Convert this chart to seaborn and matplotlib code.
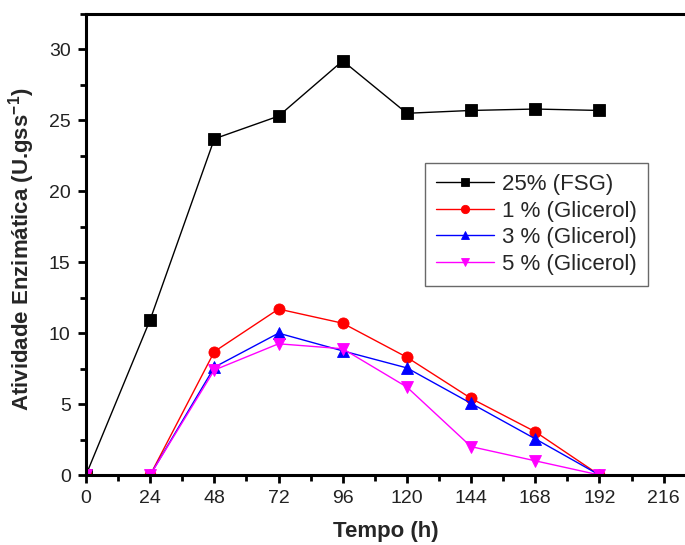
import matplotlib
matplotlib.use("Agg")
import matplotlib.pyplot as plt
from matplotlib.ticker import MultipleLocator
import seaborn as sns
import pandas as pd

tempo = [0, 24, 48, 72, 96, 120, 144, 168, 192]
fsg_25 = [0.0, 10.95, 23.7, 25.3, 29.2, 25.5, 25.7, 25.8, 25.7]
glic_1 = [0.0, 0.0, 8.7, 11.7, 10.7, 8.3, 5.4, 3.05, 0.0]
glic_3 = [0.0, 0.0, 7.6, 10.0, 8.75, 7.55, 5.05, 2.55, 0.0]
glic_5 = [0.0, 0.0, 7.4, 9.25, 8.9, 6.2, 2.0, 1.0, 0.0]
series_names = ["25% (FSG)", "1 % (Glicerol)", "3 % (Glicerol)", "5 % (Glicerol)"]
x_ticks = [0, 24, 48, 72, 96, 120, 144, 168, 192, 216]
y_ticks = [0, 5, 10, 15, 20, 25, 30]

rows = []
for name, vals in zip(series_names, [fsg_25, glic_1, glic_3, glic_5]):
    for t, v in zip(tempo, vals):
        rows.append({"Tempo": t, "Atividade": v, "Serie": name})
df = pd.DataFrame(rows)

sns.set_style("white")
plt.rcParams["font.family"] = ["Liberation Sans", "DejaVu Sans"]
plt.rcParams["mathtext.fontset"] = "custom"
plt.rcParams["mathtext.rm"] = "Liberation Sans"
plt.rcParams["mathtext.bf"] = "Liberation Sans:bold"

fig = plt.figure(figsize=(6.85, 5.45), dpi=100)
ax = fig.add_axes([86 / 685, 1 - 475 / 545, 1 - 86 / 685, (475 - 14) / 545])

palette = {series_names[0]: "#000000", series_names[1]: "#ff0000",
           series_names[2]: "#0000ff", series_names[3]: "#ff00ff"}
markers = {series_names[0]: "s", series_names[1]: "o",
           series_names[2]: "^", series_names[3]: "v"}

sns.lineplot(data=df, x="Tempo", y="Atividade", hue="Serie", style="Serie",
             palette=palette, markers=markers, dashes=False, linewidth=1.0,
             markersize=8, markeredgewidth=0.6, ax=ax, legend=True)
for line in ax.lines:
    line.set_markeredgecolor(line.get_color())

ax.set_xlim(0, 224)
ax.set_ylim(0, 32.5)
ax.set_xticks(x_ticks)
ax.set_yticks(y_ticks)
ax.xaxis.set_minor_locator(MultipleLocator(12))
ax.yaxis.set_minor_locator(MultipleLocator(2.5))
ax.tick_params(axis="both", which="major", direction="out", length=6, width=2,
               labelsize=14, color="black", labelcolor="#222222", pad=5,
               bottom=True, left=True)
ax.tick_params(axis="both", which="minor", direction="out", length=4, width=2,
               color="black", bottom=True, left=True)

for side in ["left", "bottom", "top"]:
    ax.spines[side].set_visible(True)
    ax.spines[side].set_linewidth(2.2)
    ax.spines[side].set_color("black")
ax.spines["right"].set_visible(False)

ax.set_xlabel("Tempo (h)", fontsize=16, fontweight="bold")
ax.set_ylabel("Atividade Enzimática (U.gss$^{\\mathbf{-1}}$)", fontsize=16,
              fontweight="bold")
ax.xaxis.set_label_coords(0.5, -0.1)
ax.yaxis.set_label_coords(-0.082, 0.49)

leg = ax.legend(loc="upper left", bbox_to_anchor=(0.566, 0.677), borderaxespad=0,
                fontsize=16, frameon=True, fancybox=False, edgecolor="#444444",
                handlelength=2.6, handletextpad=0.35, labelspacing=0.25,
                borderpad=0.5, markerscale=0.75, title=None)
leg.get_frame().set_linewidth(1.0)

fig.savefig("out.png", dpi=100)
